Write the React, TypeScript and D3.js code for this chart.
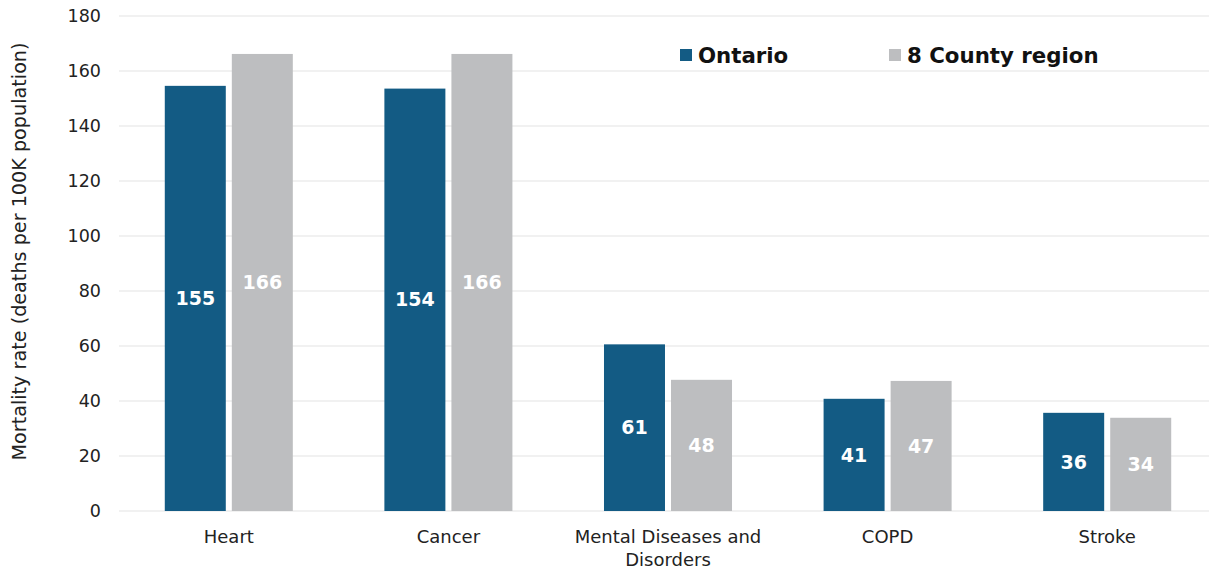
import React from "react";
import * as d3 from "d3";

const categories = ["Heart", "Cancer", "Mental Diseases and Disorders", "COPD", "Stroke"];
const categoryLines = [["Heart"], ["Cancer"], ["Mental Diseases and", "Disorders"], ["COPD"], ["Stroke"]];
const seriesNames = ["Ontario", "8 County region"];
const ontarioValues = [154.6, 153.6, 60.6, 40.8, 35.7];
const countyValues = [166.2, 166.2, 47.7, 47.3, 33.9];
const yTicks = [0, 20, 40, 60, 80, 100, 120, 140, 160, 180];
const colors = ["#135B84", "#BDBEC0"];

const W = 1209;
const H = 571;
const FONT = "'DejaVu Sans', Verdana, sans-serif";

export default function App() {
  const plotLeft = 119;
  const plotRight = 1217;
  const y = d3.scaleLinear().domain([0, 180]).range([511, 16]);
  const x0 = d3.scaleBand<string>().domain(categories).range([plotLeft, plotRight]).paddingInner(0.417).paddingOuter(0.2085);
  const x1 = d3.scaleBand<string>().domain(seriesNames).range([0, x0.bandwidth()]).paddingInner(0.09);
  const series = [ontarioValues, countyValues];

  return (
    <svg width={W} height={H} style={{ position: "absolute", left: 0, top: 0, background: "#fff" }}>
      <rect x={0} y={0} width={W} height={H} fill="#fff" />
      {yTicks.map((t) => (
        <g key={t}>
          <line x1={plotLeft} x2={W} y1={y(t)} y2={y(t)} stroke="#E3E3E3" strokeWidth={1} />
          <text x={101} y={y(t)} dy="0.35em" textAnchor="end" fontFamily={FONT} fontSize={17.5} fill="#222">
            {t}
          </text>
        </g>
      ))}
      <text
        transform={`translate(26,${y(90) - 12}) rotate(-90)`}
        textAnchor="middle"
        fontFamily={FONT}
        fontSize={19.2}
        fill="#222"
      >
        Mortality rate (deaths per 100K population)
      </text>
      {categories.map((c, ci) => (
        <g key={c} transform={`translate(${x0(c)},0)`}>
          {seriesNames.map((s, si) => {
            const v = series[si][ci];
            const bx = x1(s)!;
            const top = y(v);
            return (
              <g key={s}>
                <rect x={bx} y={top} width={x1.bandwidth()} height={y(0) - top} fill={colors[si]} />
                <text
                  x={bx + x1.bandwidth() / 2}
                  y={(top + y(0)) / 2}
                  dy="0.35em"
                  textAnchor="middle"
                  fontFamily={FONT}
                  fontWeight="bold"
                  fontSize={19}
                  fill="#fff"
                >
                  {d3.format(".0f")(v)}
                </text>
              </g>
            );
          })}
          {categoryLines[ci].map((line, li) => (
            <text
              key={li}
              x={x0.bandwidth() / 2}
              y={543 + li * 23}
              textAnchor="middle"
              fontFamily={FONT}
              fontSize={18}
              fill="#222"
            >
              {line}
            </text>
          ))}
        </g>
      ))}
      {seriesNames.map((s, si) => {
        const lx = [680, 889][si];
        return (
          <g key={s}>
            <rect x={lx} y={49} width={12} height={12} fill={colors[si]} />
            <text x={lx + 18} y={63} fontFamily={FONT} fontWeight="bold" fontSize={21.3} fill="#111">
              {s}
            </text>
          </g>
        );
      })}
    </svg>
  );
}
